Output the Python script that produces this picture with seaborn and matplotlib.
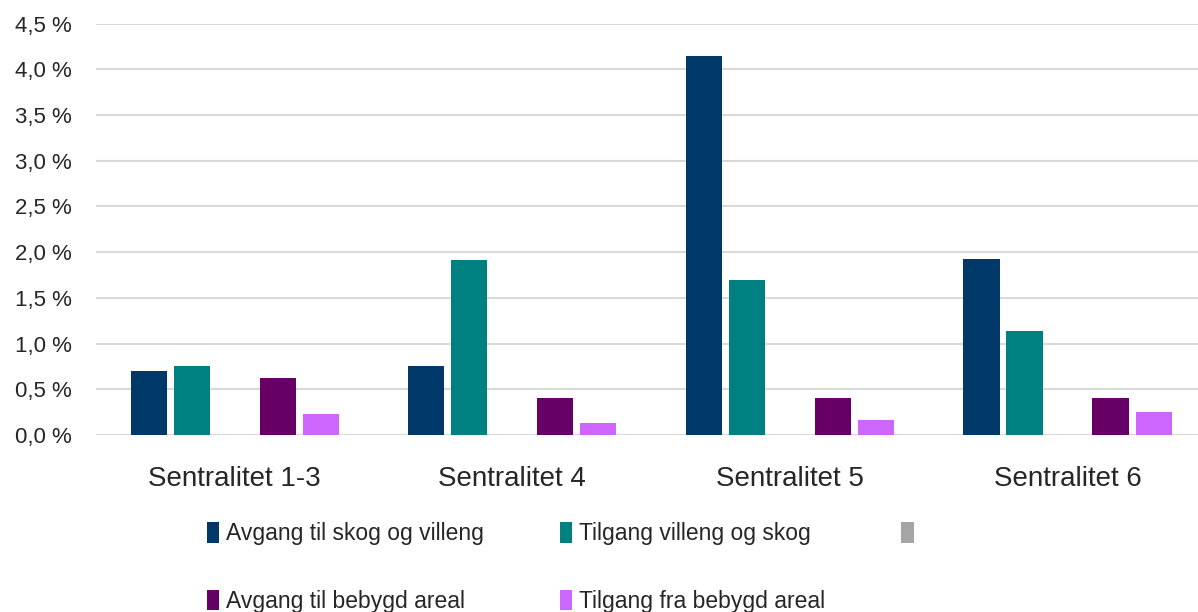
import matplotlib
matplotlib.use("Agg")
import matplotlib.pyplot as plt
import matplotlib.patches as mpatches
import seaborn as sns
import pandas as pd
from matplotlib.ticker import FuncFormatter

# Share of area changing land-use class, per centrality level
categories = ["Sentralitet 1-3", "Sentralitet 4", "Sentralitet 5", "Sentralitet 6"]
series_names = [
    "Avgang til skog og villeng",
    "Tilgang villeng og skog",
    " ",
    "Avgang til bebygd areal",
    "Tilgang fra bebygd areal",
]
avgang_skog = [0.70, 0.76, 4.15, 1.93]
tilgang_skog = [0.76, 1.91, 1.70, 1.14]
tom_serie = [0.0, 0.0, 0.0, 0.0]
avgang_bebygd = [0.62, 0.41, 0.41, 0.41]
tilgang_bebygd = [0.23, 0.13, 0.16, 0.25]
y_ticks = [0.0, 0.5, 1.0, 1.5, 2.0, 2.5, 3.0, 3.5, 4.0, 4.5]

colors = ["#00386A", "#008080", "#A5A5A5", "#660066", "#CC66FF"]

rows = []
for name, vals in zip(series_names,
                      [avgang_skog, tilgang_skog, tom_serie, avgang_bebygd, tilgang_bebygd]):
    for cat, v in zip(categories, vals):
        rows.append({"kategori": cat, "serie": name, "verdi": v})
df = pd.DataFrame(rows)

sns.set_theme(style="white")
plt.rcParams["font.family"] = ["Liberation Sans", "DejaVu Sans"]
text_color = "#262626"

fig = plt.figure(figsize=(11.98, 6.12), dpi=100)
ax = fig.add_axes([0.080, 0.2892, 0.920, 0.6724])

sns.barplot(data=df, x="kategori", y="verdi", hue="serie",
            order=categories, hue_order=series_names,
            palette=colors, saturation=1, width=0.775, gap=0.16, linewidth=0,
            errorbar=None, legend=False, ax=ax, zorder=3)

ax.set_xlim(-0.5, 3.47)
ax.set_ylim(0, 4.5)
ax.set_yticks(y_ticks)
ax.yaxis.set_major_formatter(FuncFormatter(lambda v, _: f"{v:.1f}".replace(".", ",") + " %"))
ax.grid(axis="y", color="#D9D9D9", linewidth=1.5, zorder=0)
ax.grid(axis="x", visible=False)
for s in ax.spines.values():
    s.set_visible(False)
ax.set_xlabel("")
ax.set_ylabel("")
ax.tick_params(axis="y", labelsize=16, colors=text_color, length=0, pad=17)
ax.tick_params(axis="x", labelsize=20, colors=text_color, length=0, pad=22)

handles = [mpatches.Patch(facecolor=c, edgecolor="none") for c in colors]
order = [0, 3, 1, 4, 2]
fig.legend([handles[i] for i in order], [series_names[i] for i in order],
           ncol=3, loc="upper left", bbox_to_anchor=(0.165, 0.162),
           frameon=False, fontsize=16.5, labelcolor=text_color,
           handlelength=0.55, handleheight=1.0, handletextpad=0.3,
           columnspacing=3.3, labelspacing=1.95, borderaxespad=0)

fig.savefig("out.png", dpi=100)
